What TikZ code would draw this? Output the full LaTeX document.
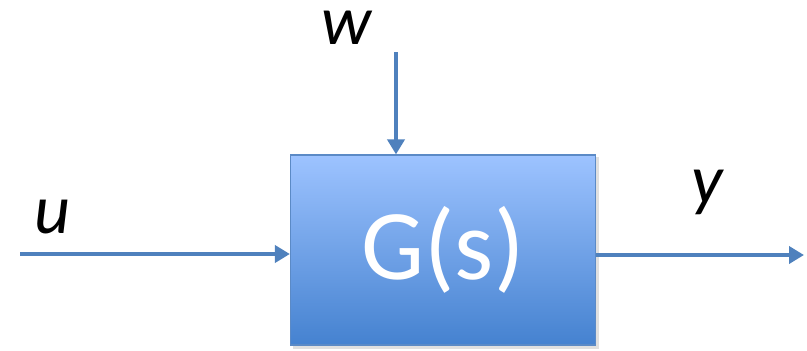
\documentclass[tikz,border=0pt]{standalone}
\usepackage{fontspec}
\setmainfont{Carlito}
\usetikzlibrary{arrows.meta}
\usetikzlibrary{positioning}
\definecolor{sigblue}{HTML}{4F81BD}
\definecolor{topblue}{HTML}{9DC3FF}
\definecolor{botblue}{HTML}{4582D0}
\definecolor{edgeblue}{HTML}{5B8AC6}

\begin{document}
\begin{tikzpicture}[ x=1pt, y=-1pt,
      signal/.style={ line width=4.5pt, color=sigblue, -{Triangle[length=15pt,width=17pt]}},
      block/.style={ draw=edgeblue, line width=1.2pt, top color=topblue, bottom color=botblue,
                     minimum width=305pt, minimum height=190pt, inner sep=0pt,
                     text=white, font=\fontsize{100}{100}\selectfont},
      sig label/.style={ font=\fontsize{70}{70}\selectfont\itshape, text=black,
                         inner sep=1pt, text height=1ex, text depth=0pt, anchor=base}
      ]
      \useasboundingbox (0,0) rectangle (807,351);

      % plant
      \fill[black!12] (293,157) rectangle (599,349);
      \node[block] (G) at (443,250) {G(s)};

      % input
      \coordinate (uin) at (20,254);
      \draw[signal] (uin) -- (G.west |- uin);
      \node[sig label] (u) at (52,233) {u};

      % disturbance
      \coordinate (win) at (396,52);
      \draw[signal] (win) -- (win |- G.north);
      \node[sig label] (w) at (347,44) {w};

      % output
      \coordinate (yout) at (804,255);
      \draw[signal] (G.east |- yout) -- (yout);
      \node[sig label] (y) at (707,203) {y};
    \end{tikzpicture}
\end{document}
